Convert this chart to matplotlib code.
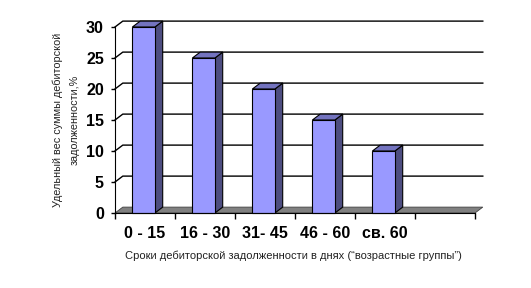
import matplotlib
matplotlib.use("Agg")
import matplotlib.pyplot as plt
from matplotlib.patches import Polygon, Rectangle

plt.rcParams["font.family"] = ["Liberation Sans", "DejaVu Sans"]

categories = ["0 - 15", "16 - 30", "31- 45", "46 - 60", "св. 60", ""]
values = [30, 25, 20, 15, 10]
y_ticks = [0, 5, 10, 15, 20, 25, 30]

x_title = "Сроки дебиторской задолженности в днях (“возрастные группы”)"
y_title = "Удельный вес суммы дебиторской\nзадолженности,%"

# 3d look: depth offset (category units, value units)
dx, dy = 0.13, 0.95
n_cat = len(categories)

fig = plt.figure(figsize=(5.31, 2.88), dpi=100)
ax = fig.add_axes([115 / 531, (288 - 213) / 288, 390 / 531, 198.4 / 288])
ax.set_xlim(0, 6.5)
ax.set_ylim(0, 32)

# back wall gridlines with diagonal from the front axis
for v in y_ticks[1:]:
    ax.plot([0, dx, n_cat + dx], [v, v + dy, v + dy], color="black", lw=1,
            clip_on=False, zorder=1)

# floor
floor = Polygon([(0, 0), (n_cat, 0), (n_cat + dx, dy), (dx, dy)],
                closed=True, facecolor="#808080", edgecolor="#404040",
                lw=0.6, zorder=2, clip_on=False)
ax.add_patch(floor)

# bars
w = 0.375
for i, v in enumerate(values):
    x0 = i + 0.29
    x1 = x0 + w
    side = Polygon([(x1, 0), (x1 + dx, dy), (x1 + dx, v + dy), (x1, v)],
                   closed=True, facecolor="#4D4D80", edgecolor="black",
                   lw=0.8, zorder=3, clip_on=False)
    top = Polygon([(x0, v), (x1, v), (x1 + dx, v + dy), (x0 + dx, v + dy)],
                  closed=True, facecolor="#7373BF", edgecolor="black",
                  lw=0.8, zorder=3, clip_on=False)
    front = Rectangle((x0, 0), w, v, facecolor="#9999FF", edgecolor="black",
                      lw=0.8, zorder=4, clip_on=False)
    ax.add_patch(side)
    ax.add_patch(top)
    ax.add_patch(front)

# axes
for s in ["top", "right"]:
    ax.spines[s].set_visible(False)
ax.spines["left"].set_bounds(0, 30)
ax.spines["bottom"].set_bounds(0, n_cat)
ax.spines["left"].set_zorder(5)
ax.spines["bottom"].set_zorder(5)

ax.set_yticks(y_ticks)
ax.set_yticklabels([str(t) for t in y_ticks], fontsize=11.5, fontweight="bold")
ax.tick_params(axis="y", length=3, width=1, pad=5)

ax.set_xticks(range(n_cat + 1))
ax.set_xticklabels([])
ax.tick_params(axis="x", which="major", length=4, width=1)
ax.set_xticks([i + 0.5 for i in range(n_cat)], minor=True)
ax.set_xticklabels(categories, minor=True, fontsize=11.5, fontweight="bold")
ax.tick_params(axis="x", which="minor", length=0, pad=9)

fig.text(293 / 531, 1 - 256 / 288, x_title, fontsize=8, ha="center",
         va="center", color="#222222")
fig.text(66 / 531, 1 - 120 / 288, y_title, fontsize=7.8, ha="center",
         va="center", rotation=90, color="#222222", linespacing=1.8)

fig.savefig("out.png", dpi=100)
